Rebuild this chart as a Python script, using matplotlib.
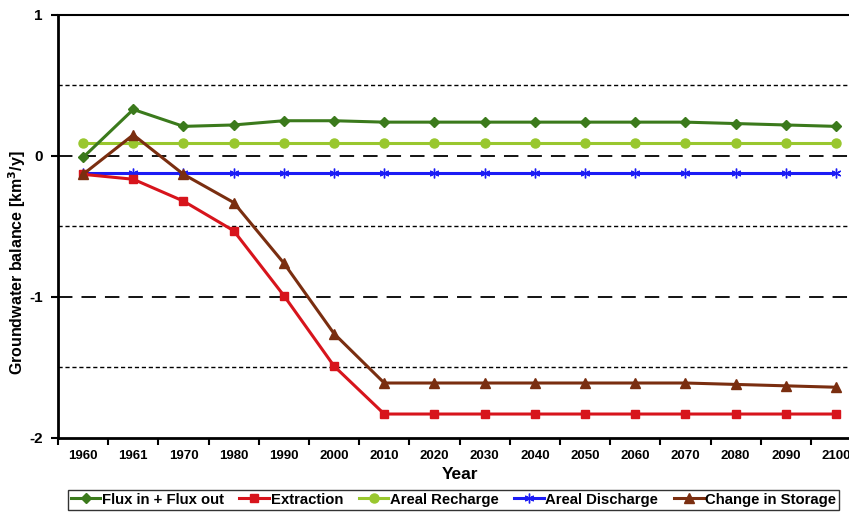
import numpy as np
import matplotlib.pyplot as plt

plt.rcParams['font.family'] = ['Liberation Sans', 'DejaVu Sans']
plt.rcParams['font.weight'] = 'bold'

years = ['1960', '1961', '1970', '1980', '1990', '2000', '2010', '2020',
         '2030', '2040', '2050', '2060', '2070', '2080', '2090', '2100']

flux = [-0.01, 0.33, 0.21, 0.22, 0.25, 0.25, 0.24, 0.24, 0.24, 0.24, 0.24,
        0.24, 0.24, 0.23, 0.22, 0.21]
extraction = [-0.13, -0.165, -0.32, -0.53, -0.99, -1.49, -1.83, -1.83, -1.83,
              -1.83, -1.83, -1.83, -1.83, -1.83, -1.83, -1.83]
recharge = [0.09] * 16
discharge = [-0.12] * 16
storage = [-0.13, 0.15, -0.13, -0.33, -0.76, -1.26, -1.61, -1.61, -1.61,
           -1.61, -1.61, -1.61, -1.61, -1.62, -1.63, -1.64]

fig = plt.figure(figsize=(8.49, 5.13), dpi=100)
ax = fig.add_axes([0.0683, 0.1462, 0.946, 0.8246])

x = np.arange(len(years))

# gridlines: long dashes at whole values, short dashes at halves
ax.axhline(0, color='black', lw=1.3, dashes=(8, 5), zorder=1)
ax.axhline(-1, color='black', lw=1.3, dashes=(8, 5), zorder=1)
for v in [0.5, -0.5, -1.5]:
    ax.axhline(v, color='black', lw=1.0, dashes=(3, 2), zorder=1)

ax.plot(x, flux, color='#3b7a1c', lw=2.2, marker='D', ms=5,
        label='Flux in + Flux out', zorder=5)
ax.plot(x, extraction, color='#d7141c', lw=2.2, marker='s', ms=6,
        label='Extraction', zorder=4)
ax.plot(x, recharge, color='#99c72e', lw=2.2, marker='o', ms=6.5,
        label='Areal Recharge', zorder=3)
ax.plot(x, discharge, color='#1c1cf5', lw=2.2, marker=(6, 2, 0), ms=7,
        mew=1.0, label='Areal Discharge', zorder=3)
ax.plot(x, storage, color='#7a2e10', lw=2.2, marker='^', ms=6.5,
        label='Change in Storage', zorder=6)

ax.set_xlim(-0.5, len(years) - 0.5)
ax.set_ylim(-2, 1)
ax.set_yticks([1, 0, -1, -2])
ax.set_yticklabels(['1', '0', '-1', '-2'], fontsize=11, fontweight='bold')
ax.set_xticks(x)
ax.set_xticklabels(years, fontsize=9.5, fontweight='bold')
ax.set_xticks(np.arange(-0.5, len(years), 1), minor=True)
ax.tick_params(axis='x', which='major', length=0, pad=9)
ax.tick_params(axis='x', which='minor', length=5, width=1.5, direction='out')
ax.tick_params(axis='y', length=5, width=1.5, direction='out', pad=6)

for s in ['left', 'bottom']:
    ax.spines[s].set_linewidth(2)
ax.spines['top'].set_linewidth(1.5)
ax.spines['right'].set_visible(False)

ax.set_xlabel('Year', fontsize=12.5, fontweight='bold', labelpad=3)
ax.set_ylabel('Groundwater balance [km$^3$/y]', fontsize=11.5,
              fontweight='bold')
ax.yaxis.set_label_coords(-0.037, 0.414)

leg = fig.legend(loc='lower left', bbox_to_anchor=(0.071, -0.008), ncol=5,
                 fontsize=10.7, frameon=True, fancybox=False, edgecolor='black',
                 handlelength=2.0, handletextpad=0.1, columnspacing=1.05,
                 borderpad=0.2)
leg.get_frame().set_linewidth(1.0)

fig.savefig('out.png', dpi=100)
